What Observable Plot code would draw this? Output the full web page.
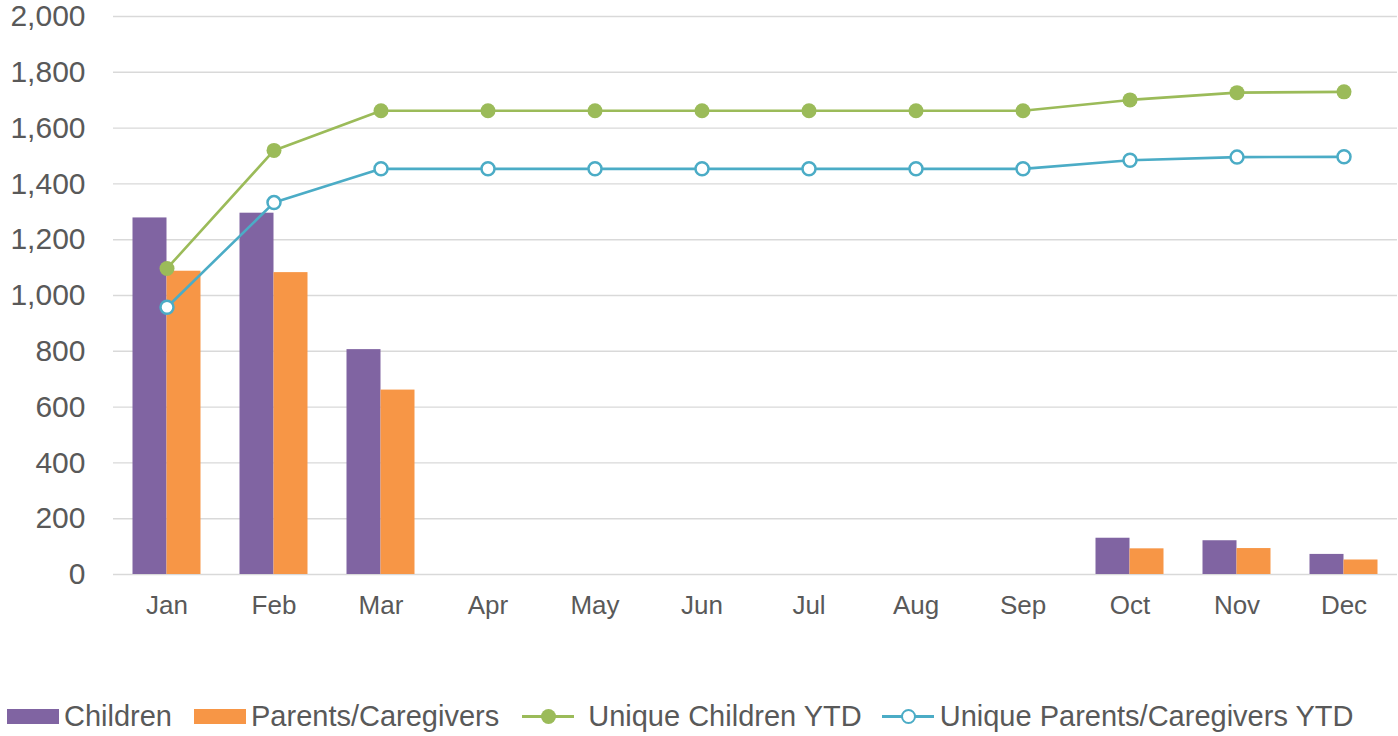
<!DOCTYPE html>
<html>
<head>
<meta charset="utf-8">
<script src="https://cdn.jsdelivr.net/npm/d3@7"></script>
<script src="https://cdn.jsdelivr.net/npm/@observablehq/plot@0.6"></script>
<style>
  html, body { margin: 0; padding: 0; background: #fff; }
  body { width: 1398px; height: 736px; overflow: hidden; position: relative; font-family: "Liberation Sans", Arial, sans-serif; }
  #chart { position: absolute; left: 0; top: 0; }
  #legend { position: absolute; left: 7px; top: 700px; display: flex; align-items: center; font-size: 29px; color: #595959; white-space: nowrap; }
  .item { display: flex; align-items: center; }
  .sw { width: 52px; height: 15px; margin-right: 5px; }
  .ln { position: relative; width: 52px; height: 3px; }
  .ln span { position: absolute; left: 19px; top: -6px; width: 15px; height: 15px; border-radius: 50%; box-sizing: border-box; }
</style>
</head>
<body>
<div id="chart"></div>
<div id="legend"></div>
<script>
const months = ["Jan","Feb","Mar","Apr","May","Jun","Jul","Aug","Sep","Oct","Nov","Dec"];
const children = [1278,1295,806,null,null,null,null,null,null,130,121,72];
const parents = [1087,1082,661,null,null,null,null,null,null,92,93,52];
const uniqueChildren = [1097,1520,1662,1662,1662,1662,1662,1662,1662,1701,1727,1730];
const uniqueParents = [958,1333,1454,1454,1454,1454,1454,1454,1454,1485,1496,1497];
const yTicks = [0,200,400,600,800,1000,1200,1400,1600,1800,2000];
const seriesNames = ["Children","Parents/Caregivers","Unique Children YTD","Unique Parents/Caregivers YTD"];
const colors = ["#8064A2","#F79646","#9BBB59","#4BACC6"];

const barsC = months.map((m,i)=>({month:m, value:children[i]})).filter(d=>d.value!=null);
const barsP = months.map((m,i)=>({month:m, value:parents[i]})).filter(d=>d.value!=null);
const lineC = months.map((m,i)=>({month:m, value:uniqueChildren[i]}));
const lineP = months.map((m,i)=>({month:m, value:uniqueParents[i]}));

const textColor = "#595959";
const chart = Plot.plot({
  width: 1398,
  height: 660,
  marginLeft: 113,
  marginRight: 1,
  marginTop: 16,
  marginBottom: 86,
  style: {fontFamily: "'Liberation Sans', Arial, sans-serif", color: textColor, background: "#fff"},
  x: {domain: months, padding: 0, label: null},
  y: {domain: [0, 2000], label: null},
  marks: [
    Plot.gridY(yTicks, {stroke: "#d9d9d9", strokeOpacity: 1, strokeWidth: 1.4}),
    Plot.barY(barsC, {x: "month", y: "value", fill: colors[0], insetLeft: 19.5, insetRight: 53.5}),
    Plot.barY(barsP, {x: "month", y: "value", fill: colors[1], insetLeft: 53.5, insetRight: 19.5}),
    Plot.lineY(lineC, {x: "month", y: "value", stroke: colors[2], strokeWidth: 2.6}),
    Plot.dot(lineC, {x: "month", y: "value", fill: colors[2], r: 7.5}),
    Plot.lineY(lineP, {x: "month", y: "value", stroke: colors[3], strokeWidth: 2.6}),
    Plot.dot(lineP, {x: "month", y: "value", fill: "#fff", stroke: colors[3], strokeWidth: 2.5, r: 6.5}),
    Plot.axisY(yTicks, {tickSize: 0, tickPadding: 28, fontSize: 30, tickFormat: d3.format(","), fill: textColor, label: null}),
    Plot.axisX({tickSize: 0, tickPadding: 21, fontSize: 26, fill: textColor, label: null})
  ]
});
document.getElementById("chart").appendChild(chart);

const legend = document.getElementById("legend");
const gaps = [22, 23, 20, 0];
seriesNames.forEach((name, i) => {
  const item = document.createElement("div");
  item.className = "item";
  item.style.marginRight = gaps[i] + "px";
  if (i < 2) {
    const sw = document.createElement("div");
    sw.className = "sw";
    sw.style.background = colors[i];
    item.appendChild(sw);
  } else {
    const ln = document.createElement("div");
    ln.className = "ln";
    ln.style.background = colors[i];
    ln.style.marginRight = (i === 2 ? 14 : 6) + "px";
    const dot = document.createElement("span");
    if (i === 2) { dot.style.background = colors[i]; }
    else { dot.style.background = "#fff"; dot.style.border = "2.5px solid " + colors[i]; }
    ln.appendChild(dot);
    item.appendChild(ln);
  }
  const t = document.createElement("span");
  t.textContent = name;
  item.appendChild(t);
  legend.appendChild(item);
});
</script>
</body>
</html>
